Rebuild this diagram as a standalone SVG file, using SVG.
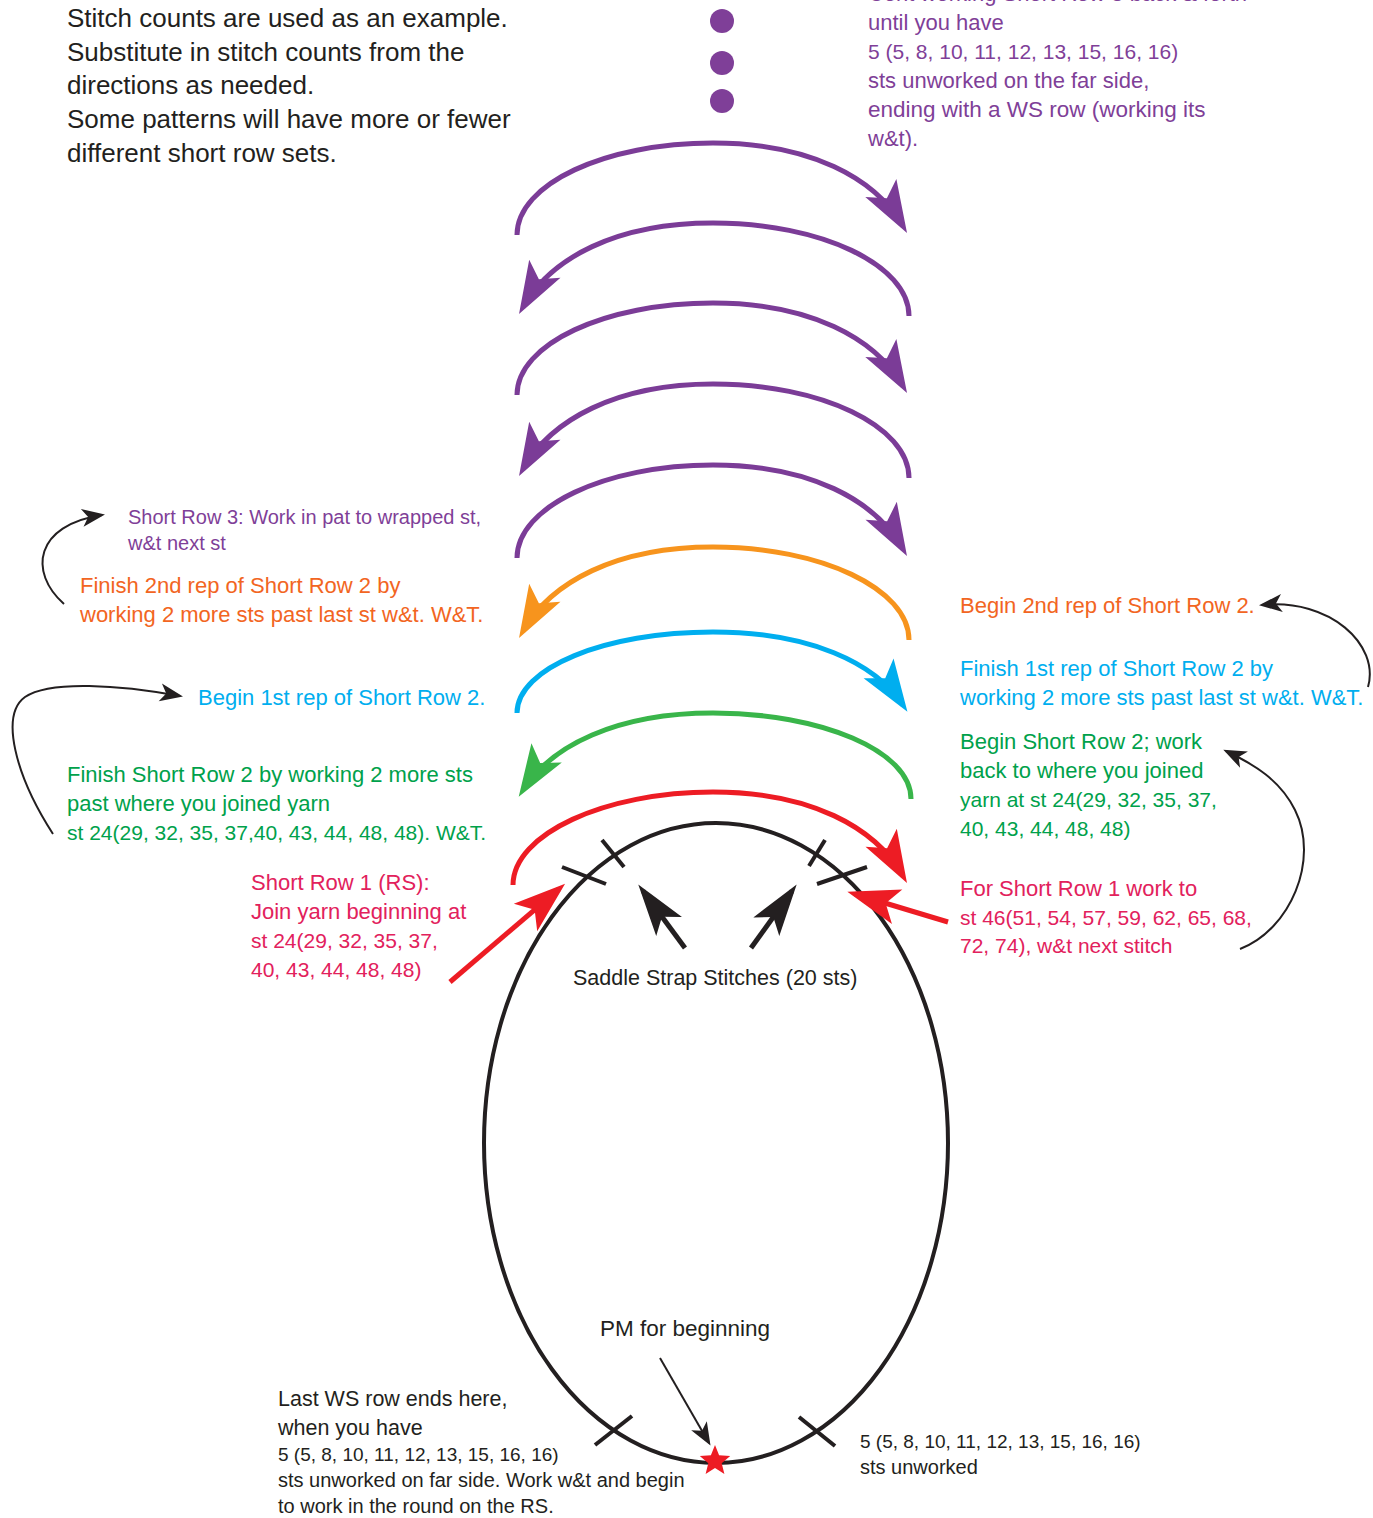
<svg xmlns="http://www.w3.org/2000/svg" width="1373" height="1518" viewBox="0 0 1373 1518">
<style>
text{font-family:"Liberation Sans",Arial,sans-serif;font-size:22px}
.blk{fill:#231f20}
.pur{fill:#7f3f98}
.org{fill:#f26522}
.blu{fill:#00aeef}
.grn{fill:#00a14b}
.red{fill:#e2215c}
.big{font-size:26px}
.num{font-size:21px}
.arc{fill:none;stroke-width:5;stroke-linecap:butt}
.thin{fill:none;stroke:#231f20;stroke-width:2}
.tick{stroke:#231f20;stroke-width:4;fill:none}
</style>
<defs>
<marker id="hPur" markerUnits="userSpaceOnUse" markerWidth="70" markerHeight="50" viewBox="-50 -25 70 50" refX="0" refY="0" orient="auto" overflow="visible"><path d="M8,0 L-44,-18 L-32,0 L-44,18 Z" fill="#7b3c97"/></marker>
<marker id="hOrg" markerUnits="userSpaceOnUse" markerWidth="70" markerHeight="50" viewBox="-50 -25 70 50" refX="0" refY="0" orient="auto" overflow="visible"><path d="M8,0 L-44,-18 L-32,0 L-44,18 Z" fill="#f7941d"/></marker>
<marker id="hBlu" markerUnits="userSpaceOnUse" markerWidth="70" markerHeight="50" viewBox="-50 -25 70 50" refX="0" refY="0" orient="auto" overflow="visible"><path d="M8,0 L-44,-18 L-32,0 L-44,18 Z" fill="#00aeef"/></marker>
<marker id="hGrn" markerUnits="userSpaceOnUse" markerWidth="70" markerHeight="50" viewBox="-50 -25 70 50" refX="0" refY="0" orient="auto" overflow="visible"><path d="M8,0 L-44,-18 L-32,0 L-44,18 Z" fill="#39b54a"/></marker>
<marker id="hRed" markerUnits="userSpaceOnUse" markerWidth="70" markerHeight="50" viewBox="-50 -25 70 50" refX="0" refY="0" orient="auto" overflow="visible"><path d="M8,0 L-44,-18 L-32,0 L-44,18 Z" fill="#ed1c24"/></marker>
<marker id="hBlk" markerUnits="userSpaceOnUse" markerWidth="70" markerHeight="50" viewBox="-50 -25 70 50" refX="0" refY="0" orient="auto" overflow="visible"><path d="M8,0 L-44,-16 L-32,0 L-44,16 Z" fill="#231f20"/></marker>
<marker id="hThin" markerUnits="userSpaceOnUse" markerWidth="30" markerHeight="20" viewBox="-25 -10 30 20" refX="0" refY="0" orient="auto" overflow="visible"><path d="M3,0 L-20,-9 L-14,0 L-20,9 Z" fill="#231f20"/></marker>
</defs>

<g id="dots">
<circle cx="722" cy="21" r="12" fill="#7f3f98"/>
<circle cx="722" cy="63" r="12" fill="#7f3f98"/>
<circle cx="722" cy="101" r="12" fill="#7f3f98"/>
</g>

<g id="round">
<ellipse cx="716" cy="1143" rx="232" ry="320" fill="none" stroke="#231f20" stroke-width="4"/>
<line class="tick" x1="562" y1="867" x2="606" y2="884"/>
<line class="tick" x1="602" y1="840" x2="624" y2="867"/>
<line class="tick" x1="809" y1="866" x2="825" y2="840"/>
<line class="tick" x1="817" y1="884" x2="867" y2="867"/>
<line class="tick" x1="595" y1="1445" x2="632" y2="1416"/>
<line class="tick" x1="799" y1="1417" x2="835" y2="1446"/>
<polygon id="pm-star" points="715,1445 719.1,1455.3 730.2,1456.1 721.7,1463.2 724.4,1473.9 715,1468 705.6,1473.9 708.3,1463.2 699.8,1456.1 710.9,1455.3" fill="#ed1c24"/>
</g>

<g id="connectors">
<path class="arc" stroke="#7b3c97" marker-end="url(#hPur)" d="M517,235 C517,184 605,143 713,143 C810,143 875,178 903,226"/>
<path class="arc" stroke="#7b3c97" marker-end="url(#hPur)" d="M909,316 C909,265 821,223 713,223 C616,223 551,258 523,307"/>
<path class="arc" stroke="#7b3c97" marker-end="url(#hPur)" d="M517,395 C517,344 605,303 713,303 C810,303 875,338 903,386"/>
<path class="arc" stroke="#7b3c97" marker-end="url(#hPur)" d="M909,478 C909,426 821,384 713,384 C616,384 551,420 523,469"/>
<path class="arc" stroke="#7b3c97" marker-end="url(#hPur)" d="M517,558 C517,507 605,465 713,465 C810,465 875,500 903,549"/>
<path class="arc" stroke="#f7941d" marker-end="url(#hOrg)" d="M909,640 C909,589 821,547 713,547 C616,547 551,582 523,631"/>
<path class="arc" stroke="#00aeef" marker-end="url(#hBlu)" d="M517,713 C517,668 605,632 713,632 C810,632 875,663 903,705"/>
<path class="arc" stroke="#39b54a" marker-end="url(#hGrn)" d="M911,799 C911,751 821,713 713,713 C616,713 551,746 523,790"/>
<path class="arc" stroke="#ed1c24" marker-end="url(#hRed)" d="M513,885 C513,834 605,792 713,792 C810,792 875,827 903,876"/>

<line stroke="#ed1c24" stroke-width="5" x1="450" y1="982" x2="559" y2="889" marker-end="url(#hRed)"/>
<line stroke="#ed1c24" stroke-width="5" x1="948" y1="922" x2="855" y2="894" marker-end="url(#hRed)"/>
<line stroke="#231f20" stroke-width="5" x1="685" y1="948" x2="643" y2="891" marker-end="url(#hBlk)"/>
<line stroke="#231f20" stroke-width="5" x1="751" y1="948" x2="792" y2="891" marker-end="url(#hBlk)"/>

<path class="thin" marker-end="url(#hThin)" d="M64,604 C28,572 35,525 102,515"/>
<path class="thin" marker-end="url(#hThin)" d="M53,834 C15,775 0,715 25,697 C50,680 120,685 180,696"/>
<path class="thin" marker-end="url(#hThin)" d="M1368,687 C1380,645 1330,598 1262,605"/>
<path class="thin" marker-end="url(#hThin)" d="M1240,949 C1290,930 1320,860 1295,810 C1280,780 1255,765 1226,751"/>
<path class="thin" marker-end="url(#hThin)" d="M660,1358 L709,1443"/>
</g>

<g id="note-top-left">
<text class="blk big" x="67" y="27">Stitch counts are used as an example.</text>
<text class="blk big" x="67" y="61">Substitute in stitch counts from the</text>
<text class="blk big" x="67" y="94">directions as needed.</text>
<text class="blk big" x="67" y="128">Some patterns will have more or fewer</text>
<text class="blk big" x="67" y="162">different short row sets.</text>
</g>

<g id="label-cont">
<text class="pur" x="868" y="1">Cont working Short Row 3 back &amp; forth</text>
<text class="pur" x="868" y="30">until you have</text>
<text class="pur num" x="868" y="59">5 (5, 8, 10, 11, 12, 13, 15, 16, 16)</text>
<text class="pur" x="868" y="88">sts unworked on the far side,</text>
<text class="pur" x="868" y="117" style="font-size:22.5px">ending with a WS row (working its</text>
<text class="pur" x="868" y="146">w&amp;t).</text>
</g>

<g id="label-sr3">
<text class="pur" x="128" y="524" style="font-size:20px">Short Row 3: Work in pat to wrapped st,</text>
<text class="pur" x="128" y="550" style="font-size:20px">w&amp;t next st</text>
</g>

<g id="label-finish-2nd">
<text class="org" x="80" y="593">Finish 2nd rep of Short Row 2 by</text>
<text class="org" x="80" y="622">working 2 more sts past last st w&amp;t. W&amp;T.</text>
</g>

<g id="label-begin-1st">
<text class="blu" x="198" y="705">Begin 1st rep of Short Row 2.</text>
</g>

<g id="label-finish-sr2">
<text class="grn" x="67" y="782">Finish Short Row 2 by working 2 more sts</text>
<text class="grn" x="67" y="811">past where you joined yarn</text>
<text class="grn num" x="67" y="840">st 24(29, 32, 35, 37,40, 43, 44, 48, 48). W&amp;T.</text>
</g>

<g id="label-sr1">
<text class="red" x="251" y="890">Short Row 1 (RS):</text>
<text class="red" x="251" y="919">Join yarn beginning at</text>
<text class="red num" x="251" y="948">st 24(29, 32, 35, 37,</text>
<text class="red num" x="251" y="977">40, 43, 44, 48, 48)</text>
</g>

<g id="label-begin-2nd">
<text class="org" x="960" y="613">Begin 2nd rep of Short Row 2.</text>
</g>

<g id="label-finish-1st">
<text class="blu" x="960" y="676">Finish 1st rep of Short Row 2 by</text>
<text class="blu" x="960" y="705">working 2 more sts past last st w&amp;t. W&amp;T.</text>
</g>

<g id="label-begin-sr2">
<text class="grn" x="960" y="749">Begin Short Row 2; work</text>
<text class="grn" x="960" y="778">back to where you joined</text>
<text class="grn num" x="960" y="807">yarn at st 24(29, 32, 35, 37,</text>
<text class="grn num" x="960" y="836">40, 43, 44, 48, 48)</text>
</g>

<g id="label-sr1-work">
<text class="red" x="960" y="896">For Short Row 1 work to</text>
<text class="red num" x="960" y="925">st 46(51, 54, 57, 59, 62, 65, 68,</text>
<text class="red num" x="960" y="953">72, 74), w&amp;t next stitch</text>
</g>

<g id="label-saddle">
<text class="blk" x="573" y="985" style="font-size:21.5px">Saddle Strap Stitches (20 sts)</text>
</g>

<g id="label-pm">
<text class="blk" x="600" y="1336" style="font-size:22.5px">PM for beginning</text>
</g>

<g id="label-last-ws">
<text class="blk" x="278" y="1406" style="font-size:21.5px">Last WS row ends here,</text>
<text class="blk" x="278" y="1435" style="font-size:21.5px">when you have</text>
<text class="blk" x="278" y="1461" style="font-size:19px">5 (5, 8, 10, 11, 12, 13, 15, 16, 16)</text>
<text class="blk" x="278" y="1487" style="font-size:20px">sts unworked on far side. Work w&amp;t and begin</text>
<text class="blk" x="278" y="1513" style="font-size:20px">to work in the round on the RS.</text>
</g>

<g id="label-unworked">
<text class="blk" x="860" y="1448" style="font-size:19px">5 (5, 8, 10, 11, 12, 13, 15, 16, 16)</text>
<text class="blk" x="860" y="1474" style="font-size:20px">sts unworked</text>
</g>
</svg>
